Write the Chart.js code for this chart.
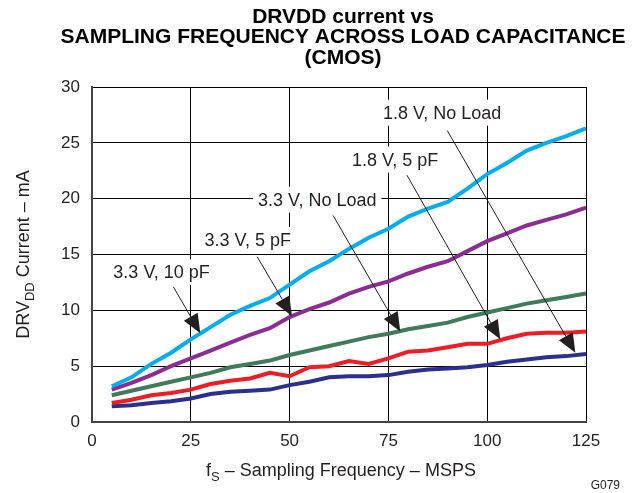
<!DOCTYPE html>
<html>
<head>
<meta charset="utf-8">
<script src="https://cdn.jsdelivr.net/npm/chart.js@4.4.0/dist/chart.umd.min.js"></script>
<style>
  html, body { margin: 0; padding: 0; background: #fff; }
</style>
</head>
<body>
<canvas id="drvdd-chart" width="635" height="493"></canvas>
<script>
// sampling frequency, MSPS
const freq = [5, 10, 15, 20, 25, 30, 35, 40, 45, 50, 55, 60, 65, 70, 75, 80, 85, 90, 95, 100, 105, 110, 115, 120, 125];

// DRVDD current, mA
const cur33v10pF = [3.2, 4.0, 5.2, 6.2, 7.4, 8.5, 9.6, 10.4, 11.1, 12.3, 13.5, 14.4, 15.5, 16.5, 17.3, 18.4, 19.1, 19.7, 20.9, 22.2, 23.2, 24.3, 25.0, 25.6, 26.3];
const cur33v5pF = [2.9, 3.5, 4.2, 5.0, 5.7, 6.4, 7.1, 7.8, 8.4, 9.4, 10.1, 10.7, 11.5, 12.1, 12.6, 13.3, 13.9, 14.4, 15.3, 16.2, 16.9, 17.6, 18.1, 18.6, 19.2];
const cur33vNoLoad = [2.4, 2.8, 3.2, 3.6, 4.0, 4.4, 4.9, 5.2, 5.5, 6.0, 6.4, 6.8, 7.2, 7.6, 7.9, 8.3, 8.6, 8.9, 9.4, 9.8, 10.2, 10.6, 10.9, 11.2, 11.5];
const cur18v5pF = [1.7, 2.0, 2.4, 2.6, 2.9, 3.4, 3.7, 3.9, 4.4, 4.1, 4.9, 5.0, 5.45, 5.2, 5.7, 6.3, 6.4, 6.7, 7.0, 7.0, 7.5, 7.9, 8.0, 8.0, 8.1];
const cur18vNoLoad = [1.4, 1.5, 1.7, 1.85, 2.1, 2.5, 2.7, 2.8, 2.9, 3.3, 3.6, 4.0, 4.1, 4.1, 4.2, 4.5, 4.7, 4.8, 4.9, 5.1, 5.4, 5.6, 5.8, 5.9, 6.1];

const xTicks = [0, 25, 50, 75, 100, 125];
const yTicks = [0, 5, 10, 15, 20, 25, 30];

const titleLines = ['DRVDD current vs', 'SAMPLING FREQUENCY ACROSS LOAD CAPACITANCE', '(CMOS)'];

// callouts: label centre and arrow, in data units
const notes = [
    { text: '1.8 V, No Load', at: [88.6, 27.7], from: [89.9, 26.1], to: [122.3, 6.2] },
    { text: '1.8 V, 5 pF', at: [76.7, 23.5], from: [79.7, 22.1], to: [103.3, 7.4] },
    { text: '3.3 V, No Load', at: [57.0, 19.9], from: [61.0, 18.5], to: [78.0, 8.1] },
    { text: '3.3 V, 5 pF', at: [39.4, 16.3], from: [41.8, 14.8], to: [50.6, 9.5] },
    { text: '3.3 V, 10 pF', at: [17.6, 13.4], from: [20.6, 12.1], to: [27.4, 7.95] },
];

const ink = '#231f20';
const face = "'Liberation Sans', Arial, Helvetica, sans-serif";

const toPoints = (vals) => vals.map((v, i) => ({ x: freq[i], y: v }));

const series = (label, vals, color) => ({
    label,
    data: toPoints(vals),
    borderColor: color,
    backgroundColor: color,
    borderWidth: 4,
    pointRadius: 0,
    tension: 0,
    fill: false,
});

// text with one subscript part: parts = [[str, isSub], ...]
const drawRich = (ctx, parts, cx, cy, size) => {
    const subSize = Math.round(size * 0.72);
    let total = 0;
    parts.forEach(([s, sub]) => {
        ctx.font = `${sub ? subSize : size}px ${face}`;
        total += ctx.measureText(s).width;
    });
    let px = cx - total / 2;
    ctx.textAlign = 'left';
    ctx.textBaseline = 'alphabetic';
    parts.forEach(([s, sub]) => {
        ctx.font = `${sub ? subSize : size}px ${face}`;
        ctx.fillText(s, px, cy + (sub ? size * 0.25 : 0));
        px += ctx.measureText(s).width;
    });
};

const extras = {
    id: 'extras',
    beforeDatasetsDraw(chart) {
        const { ctx, scales: { x, y } } = chart;
        ctx.save();
        ctx.font = `18px ${face}`;
        ctx.textAlign = 'center';
        ctx.textBaseline = 'middle';
        notes.forEach(n => {
            const px = x.getPixelForValue(n.at[0]);
            const py = y.getPixelForValue(n.at[1]);
            const w = ctx.measureText(n.text).width;
            ctx.fillStyle = '#fff';
            ctx.fillRect(px - w / 2 - 5, py - 13, w + 10, 26);
            ctx.fillStyle = ink;
            ctx.fillText(n.text, px, py + 1);
        });
        ctx.restore();
    },
    afterDatasetsDraw(chart) {
        const { ctx, scales: { x, y } } = chart;
        ctx.save();
        ctx.strokeStyle = ink;
        ctx.fillStyle = ink;
        ctx.lineWidth = 1;
        notes.forEach(n => {
            const x0 = x.getPixelForValue(n.from[0]), y0 = y.getPixelForValue(n.from[1]);
            const x1 = x.getPixelForValue(n.to[0]), y1 = y.getPixelForValue(n.to[1]);
            const a = Math.atan2(y1 - y0, x1 - x0);
            const len = 19, half = 8;
            const bx = x1 - len * Math.cos(a), by = y1 - len * Math.sin(a);
            ctx.beginPath();
            ctx.moveTo(x0, y0);
            ctx.lineTo(bx, by);
            ctx.stroke();
            ctx.beginPath();
            ctx.moveTo(x1, y1);
            ctx.lineTo(bx + half * Math.sin(a), by - half * Math.cos(a));
            ctx.lineTo(bx - half * Math.sin(a), by + half * Math.cos(a));
            ctx.closePath();
            ctx.fill();
        });
        ctx.restore();
    },
    afterDraw(chart) {
        const { ctx, chartArea } = chart;
        const mid = (chartArea.left + chartArea.right) / 2 + 4;
        ctx.save();
        ctx.fillStyle = '#000';
        ctx.font = `bold 21px ${face}`;
        ctx.textAlign = 'center';
        ctx.textBaseline = 'middle';
        titleLines.forEach((t, i) => ctx.fillText(t, mid, 17 + i * 20.5));

        ctx.fillStyle = ink;
        drawRich(ctx, [['f', false], ['S', true], [' \u2013 Sampling Frequency \u2013 MSPS', false]], mid - 2, 476, 18);

        ctx.translate(29, (chartArea.top + chartArea.bottom) / 2);
        ctx.rotate(-Math.PI / 2);
        drawRich(ctx, [['DRV', false], ['DD', true], [' Current \u2013 mA', false]], 0, 0, 18);
        ctx.restore();

        ctx.save();
        ctx.fillStyle = ink;
        ctx.font = `12px ${face}`;
        ctx.textAlign = 'right';
        ctx.textBaseline = 'middle';
        ctx.fillText('G079', 620, 486);
        ctx.restore();
    }
};

new Chart(document.getElementById('drvdd-chart').getContext('2d'), {
    type: 'line',
    data: {
        datasets: [
            series('3.3 V, 10 pF', cur33v10pF, '#00aeef'),
            series('3.3 V, 5 pF', cur33v5pF, '#8b2c93'),
            series('3.3 V, No Load', cur33vNoLoad, '#3f7a5a'),
            series('1.8 V, 5 pF', cur18v5pF, '#ee1c25'),
            series('1.8 V, No Load', cur18vNoLoad, '#2b2f8f'),
        ]
    },
    options: {
        responsive: false,
        animation: false,
        events: [],
        layout: {
            padding: { top: 87, right: 49, bottom: 41, left: 40 }
        },
        plugins: {
            legend: { display: false },
            title: { display: false },
            tooltip: { enabled: false },
        },
        scales: {
            x: {
                type: 'linear',
                min: 0,
                max: 125,
                afterBuildTicks: (s) => { s.ticks = xTicks.map(v => ({ value: v })); },
                afterFit: (s) => { s.height = 30; },
                grid: { color: '#000', lineWidth: 1, drawTicks: false },
                border: { color: '#444', width: 2 },
                ticks: { color: ink, font: { family: face, size: 17 }, padding: 9, maxRotation: 0 },
            },
            y: {
                min: 0,
                max: 30,
                afterBuildTicks: (s) => { s.ticks = yTicks.map(v => ({ value: v })); },
                afterFit: (s) => { s.width = 52; },
                grid: { color: '#000', lineWidth: 1, drawTicks: false },
                border: { color: '#444', width: 2 },
                ticks: { color: ink, font: { family: face, size: 17 }, padding: 12 },
            }
        }
    },
    plugins: [extras]
});
</script>
</body>
</html>
